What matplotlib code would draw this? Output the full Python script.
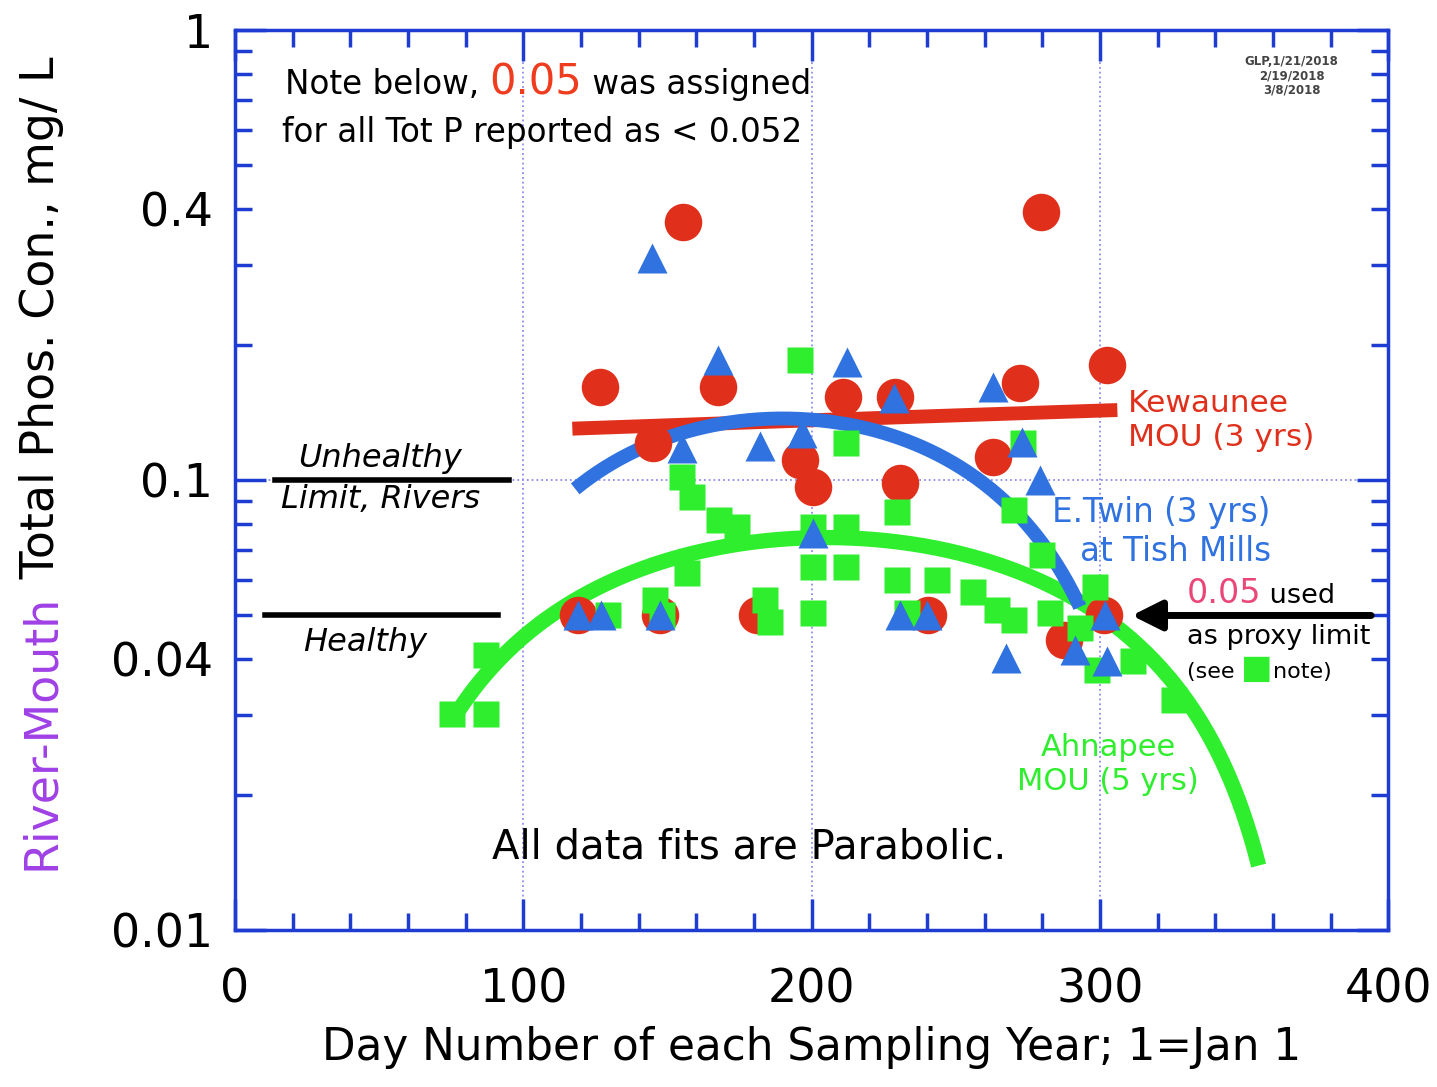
import numpy as np
import matplotlib
matplotlib.use('Agg')
import matplotlib.pyplot as plt
from matplotlib.ticker import FixedLocator, FuncFormatter, MultipleLocator
from matplotlib.offsetbox import TextArea, HPacker, AnnotationBbox

# Kewaunee MOU (3 yrs) - red circles
kew_day = [126.6, 155.4, 167.6, 145.0, 196.0, 200.5, 211.0, 229.0, 230.7, 263.0,
           272.3, 279.6, 302.5, 119.0, 147.4, 181.0, 240.4, 301.5, 287.5]
kew_tp = [0.161, 0.375, 0.161, 0.121, 0.111, 0.0965, 0.153, 0.153, 0.0985, 0.1125,
          0.164, 0.394, 0.180, 0.05, 0.05, 0.05, 0.05, 0.05, 0.044]

# E.Twin at Tish Mills (3 yrs) - blue triangles
etw_day = [144.7, 167.6, 212.3, 228.6, 263.0, 155.0, 182.0, 196.7, 273.0, 279.3,
           200.5, 119.0, 127.0, 147.4, 230.7, 240.0, 301.8, 267.5, 291.4, 302.5]
etw_tp = [0.311, 0.185, 0.183, 0.152, 0.161, 0.118, 0.119, 0.127, 0.1215, 0.100,
          0.0762, 0.05, 0.05, 0.05, 0.05, 0.05, 0.05, 0.0402, 0.0419, 0.0397]

# Ahnapee MOU (5 yrs) - green squares
ahn_day = [75.3, 87.1, 87.1, 196.0, 212.0, 155.0, 158.5, 168.0, 174.0, 200.5,
           200.5, 212.0, 212.0, 156.8, 229.6, 273.4, 270.0, 280.0, 229.6, 243.5,
           256.0, 264.4, 270.0, 282.7, 298.4, 233.0, 145.7, 129.4, 183.9, 185.6,
           200.5, 293.0, 299.0, 311.5, 325.5, 148.0]
ahn_tp = [0.0302, 0.0302, 0.0408, 0.185, 0.121, 0.1016, 0.0917, 0.0815, 0.0787, 0.0787,
          0.064, 0.0787, 0.064, 0.062, 0.085, 0.121, 0.0858, 0.068, 0.060, 0.060,
          0.0564, 0.0515, 0.0488, 0.0506, 0.0578, 0.0506, 0.0541, 0.05, 0.054, 0.0483,
          0.0506, 0.047, 0.0378, 0.0397, 0.0325, 0.05]

# parabolic fits, y = c2*x^2 + c1*x + c0, and the day range of each
kew_fit = [0.0, 6.88e-5, 0.122]
kew_fit_range = [117, 306]
etw_fit = [-7.99e-6, 3.0362e-3, -0.15144]
etw_fit_range = [118, 293]
ahn_fit = [-2.693e-6, 1.10413e-3, -0.038673]
ahn_fit_range = [76, 355]

unhealthy_limit = 0.1
proxy_limit = 0.05

x_ticks = [0, 100, 200, 300, 400]
y_major = [0.01, 0.1, 1]
y_labeled_minor = [0.04, 0.4]

RED = '#e0301c'
BLUE = '#2f72e0'
GREEN = '#2eee2e'
AXBLUE = '#1e3cd2'
PURPLE = '#a040e6'

plt.rcParams['font.family'] = ['DejaVu Sans']

fig = plt.figure(figsize=(14.37, 10.87), dpi=100)
ax = fig.add_axes([0.1635, 0.1444, 0.8027, 0.828])

ax.set_yscale('log')
ax.set_xlim(0, 400)
ax.set_ylim(0.01, 1)

# fit curves
for coef, rng, col, lw, z in [(kew_fit, kew_fit_range, RED, 10, 2),
                              (ahn_fit, ahn_fit_range, GREEN, 11, 2.5),
                              (etw_fit, etw_fit_range, BLUE, 10, 3)]:
    xx = np.linspace(rng[0], rng[1], 200)
    ax.plot(xx, np.polyval(coef, xx), color=col, lw=lw, solid_capstyle='butt', zorder=z)

ax.plot(kew_day, kew_tp, 'o', ms=27, color=RED, mec='none', zorder=4)
ax.plot(ahn_day, ahn_tp, 's', ms=18.5, color=GREEN, mec='none', zorder=5)
ax.plot(etw_day, etw_tp, '^', ms=22, color=BLUE, mec='none', zorder=6)

# limit lines
ax.axhline(unhealthy_limit, xmin=0.035, xmax=0.238, color='black', lw=4, zorder=3)
ax.axhline(proxy_limit, xmin=0.026, xmax=0.228, color='black', lw=4, zorder=3)

# axes styling
ax.grid(True, which='major', color='#8c8cf0', ls=':', lw=1.3, zorder=0)
ax.set_axisbelow(True)
for sp in ax.spines.values():
    sp.set_color(AXBLUE)
    sp.set_linewidth(2.5)

ax.xaxis.set_major_locator(FixedLocator(x_ticks))
ax.xaxis.set_minor_locator(MultipleLocator(20))
ax.yaxis.set_major_locator(FixedLocator(y_major))
minors = [m * d for d in [0.01, 0.1] for m in range(2, 10)]
ax.yaxis.set_minor_locator(FixedLocator(minors))
ax.yaxis.set_major_formatter(FuncFormatter(lambda v, p: '%g' % v))
ax.yaxis.set_minor_formatter(FuncFormatter(
    lambda v, p: '%g' % v if any(abs(v - t) < 1e-9 for t in y_labeled_minor) else ''))
ax.xaxis.set_major_formatter(FuncFormatter(lambda v, p: '%d' % v))

ax.tick_params(which='both', direction='in', top=True, right=True, color=AXBLUE,
               width=2.5, labelsize=33, labelcolor='black')
ax.tick_params(which='major', length=22)
ax.tick_params(which='minor', length=12)
ax.tick_params(axis='x', which='both', pad=27)
ax.tick_params(axis='y', which='both', pad=16)

ax.set_xlabel('Day Number of each Sampling Year; 1=Jan 1', fontsize=31.5, labelpad=10)

# y label, two colours
t1 = fig.text(0.029, 0.200, 'River-Mouth', rotation=90, ha='center', va='bottom',
              color=PURPLE, fontsize=33)
ax.annotate(' Total Phos. Con., mg/ L', xy=(0.5, 1.0), xycoords=t1, rotation=90,
            ha='center', va='bottom', color='black', fontsize=33,
            annotation_clip=False)


def mixed(parts, xy, align=(0, 0.5)):
    boxes = [TextArea(s, textprops=dict(color=c, fontsize=fs)) for s, c, fs in parts]
    pack = HPacker(children=boxes, align='baseline', pad=0, sep=0)
    ab = AnnotationBbox(pack, xy, xycoords='axes fraction', box_alignment=align,
                        frameon=False, pad=0, zorder=7)
    ax.add_artist(ab)


mixed([('Note below, ', 'black', 23.5), ('0.05', '#f03c1e', 30), (' was assigned', 'black', 23.5)],
      (0.043, 0.942))
ax.text(0.041, 0.886, 'for all Tot P reported as < 0.052', transform=ax.transAxes,
        fontsize=23.5, va='center', ha='left')

ax.text(0.916, 0.949, 'GLP,1/21/2018\n2/19/2018\n3/8/2018', transform=ax.transAxes,
        fontsize=8.5, ha='center', va='center', color='#444444', fontweight='bold',
        linespacing=1.1)

ax.text(0.774, 0.566, 'Kewaunee\nMOU (3 yrs)', transform=ax.transAxes, fontsize=22.5,
        color=RED, ha='left', va='center', linespacing=1.25)
ax.text(0.898, 0.442, 'E.Twin (3 yrs)\nat Tish Mills', transform=ax.transAxes,
        fontsize=23.5, color=BLUE, ha='right', va='center', multialignment='right',
        linespacing=1.25)
mixed([('0.05', '#eb4678', 24), (' used', 'black', 19.5)], (0.825, 0.374))
ax.text(0.825, 0.3256, 'as proxy limit', transform=ax.transAxes, fontsize=19.5,
        ha='left', va='center')
mixed([('(see ', 'black', 16), ('\u25a0', GREEN, 24), ('note)', 'black', 16)], (0.825, 0.291))

ax.annotate('', xy=(311, proxy_limit), xytext=(394, proxy_limit),
            arrowprops=dict(arrowstyle='-|>', lw=5, color='black', mutation_scale=45,
                            shrinkA=0, shrinkB=0), zorder=7)

ax.text(0.757, 0.184, 'Ahnapee\nMOU (5 yrs)', transform=ax.transAxes, fontsize=22,
        color=GREEN, ha='center', va='center', linespacing=1.25)
ax.text(0.446, 0.092, 'All data fits are Parabolic.', transform=ax.transAxes,
        fontsize=29, ha='center', va='center')

ax.text(0.126, 0.524, 'Unhealthy', transform=ax.transAxes, fontsize=23,
        style='italic', ha='center', va='center')
ax.text(0.126, 0.478, 'Limit, Rivers', transform=ax.transAxes, fontsize=23,
        style='italic', ha='center', va='center')
ax.text(0.113, 0.319, 'Healthy', transform=ax.transAxes, fontsize=23,
        style='italic', ha='center', va='center')

fig.savefig('out.png', dpi=100)
